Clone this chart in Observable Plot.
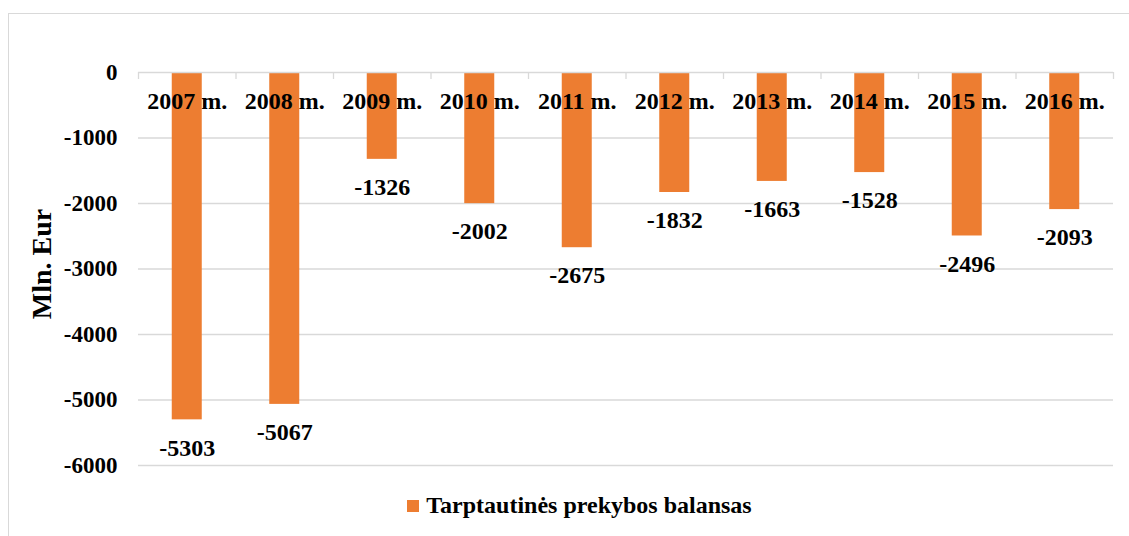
<!DOCTYPE html>
<html>
<head>
<meta charset="utf-8">
<script src="https://cdn.jsdelivr.net/npm/d3@7"></script>
<script src="https://cdn.jsdelivr.net/npm/@observablehq/plot@0.6"></script>
<style>
  html, body { margin: 0; padding: 0; background: #fff; }
  body { width: 1129px; height: 536px; overflow: hidden; position: relative; font-family: "Liberation Serif", "Times New Roman", serif; }
  #frame { position: absolute; left: 8px; top: 13px; width: 1130px; height: 540px; border: 1.5px solid #d9d9d9; box-sizing: border-box; }
  #chart { position: absolute; left: 0; top: 0; }
  #legend { position: absolute; left: 0; top: 492px; width: 1129px; box-sizing: border-box; padding-left: 30px; display: flex; justify-content: center; align-items: center; font-weight: bold; font-size: 24px; color: #000; }
  #legend .sw { width: 12px; height: 12px; background: #ED7D31; margin-right: 7px; }
</style>
</head>
<body>
<div id="frame"></div>
<div id="chart"></div>
<div id="legend"><span class="sw"></span><span id="legendText"></span></div>
<script>
const years = ["2007 m.", "2008 m.", "2009 m.", "2010 m.", "2011 m.", "2012 m.", "2013 m.", "2014 m.", "2015 m.", "2016 m."];
const values = [-5303, -5067, -1326, -2002, -2675, -1832, -1663, -1528, -2496, -2093];
const yTicks = [0, -1000, -2000, -3000, -4000, -5000, -6000];
const seriesName = "Tarptautinės prekybos balansas";
const yTitle = "Mln. Eur";

document.getElementById("legendText").textContent = seriesName;

const serif = "'Liberation Serif', 'Times New Roman', serif";
const data = years.map((y, i) => ({year: y, i, value: values[i]}));
const bounds = d3.range(years.length + 1);

const chart = Plot.plot({
  width: 1129,
  height: 490,
  marginTop: 72,
  marginBottom: 25,
  marginLeft: 138,
  marginRight: 16,
  style: {fontFamily: serif, background: "transparent", overflow: "visible"},
  x: {domain: [0, years.length], axis: null},
  y: {domain: [-6000, 0], label: null},
  marks: [
    Plot.ruleY(yTicks.filter(d => d !== 0), {stroke: "#d9d9d9", strokeWidth: 1.3}),
    Plot.rectY(data, {x1: "i", x2: d => d.i + 1, y1: 0, y2: "value", fill: "#ED7D31", insetLeft: 33.75, insetRight: 33.75}),
    Plot.ruleY([0], {stroke: "#d9d9d9", strokeWidth: 1.3}),
    Plot.ruleX(bounds, {y1: 0, y2: 0, insetBottom: -7, stroke: "#d9d9d9", strokeWidth: 1.3}),
    Plot.axisY({ticks: yTicks, tickFormat: d => String(d), tickSize: 0, tickPadding: 21, fontSize: 23, fontWeight: "bold", fontFamily: serif, fill: "#000", label: null}),
    Plot.text(data, {x: d => d.i + 0.5, y: 0, text: "year", dy: 29, fontSize: 24, fontWeight: "bold", fontFamily: serif, fill: "#000"}),
    Plot.text(data, {x: d => d.i + 0.5, y: "value", text: d => String(d.value), dy: 28, fontSize: 24, fontWeight: "bold", fontFamily: serif, fill: "#000"}),
    Plot.text([yTitle], {frameAnchor: "left", textAnchor: "middle", text: d => d, rotate: -90, dx: -96, dy: -5, fontSize: 28, fontWeight: "bold", fontFamily: serif, fill: "#000"})
  ]
});
document.getElementById("chart").appendChild(chart);
</script>
</body>
</html>
